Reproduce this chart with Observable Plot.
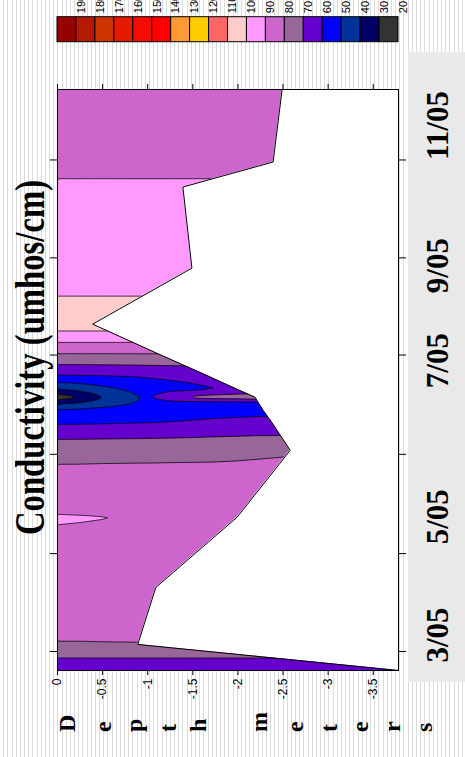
<!DOCTYPE html>
<html><head><meta charset="utf-8">
<script src="https://cdn.jsdelivr.net/npm/d3@7"></script>
<script src="https://cdn.jsdelivr.net/npm/@observablehq/plot@0.6"></script>
<style>
html,body{margin:0;padding:0;}
body{width:465px;height:757px;overflow:hidden;background:repeating-linear-gradient(to right,#ffffff 0px,#ffffff 3.17px,#dcdcdc 3.17px,#dcdcdc 4.17px);}
#wrap{position:relative;width:465px;height:757px;}
#datebox{position:absolute;left:407.5px;top:52px;width:57.5px;height:630px;background:#e9e9e9;}
#main{position:absolute;left:0;top:0;width:465px;height:757px;}
#legend{position:absolute;left:0;top:0;width:465px;height:50px;}
#main svg,#legend svg{max-width:none;}
</style></head><body>
<div id="wrap"><div id="datebox"></div><div id="main"></div><div id="legend"></div></div>
<script>
// ---- data ----
const depthCols = [0, -0.25, -0.5, -0.9, -1.05, -1.3, -1.7, -2.2, -2.7, -3.2, -3.5];
// profile times (months of 2005, decimal)
const times = [2.724, 3.102, 3.929, 4.946, 5.918, 6.296, 6.499, 6.601, 6.688, 6.804, 7.007, 7.327, 7.748, 8.561, 9.737, 10.100, 11.152];
// deepest depth of each profile (m)
const bottoms = [-3.78, -0.89, -1.09, -1.99, -2.58, -2.39, -2.28, -2.23, -2.19, -1.99, -1.65, -1.10, -0.39, -1.49, -1.39, -2.39, -2.49];
// conductivity at the deepest depth of each profile
const bottomValues = [61, 79.8, 85, 87, 79.3, 63, 57.5, 56, 76, 62, 63, 80.5, 106, 94, 91, 88, 84];
// conductivity (umhos/cm) at depthCols, null below the bottom
const conductivity = [
  [61, 61, 61, 61, 61, 61, 61, 61, 61, 61, 61],
  [79.7, 79.7, 79.75, null, null, null, null, null, null, null, null],
  [85, 85, 85, 85, 85, null, null, null, null, null, null],
  [90.6, 90.4, 90.15, 89.3, 89, 88.5, 87.5, null, null, null, null],
  [77.2, 77.3, 77.5, 77.8, 77.9, 78.1, 78.4, 78.9, null, null, null],
  [60, 60, 60.2, 60.5, 60.6, 61, 62, 63, null, null, null],
  [51, 52, 53.5, 55, 55.5, 56, 57, 57.5, null, null, null],
  [38, 41, 45, 51, 53, 55, 55.5, 56, null, null, null],
  [24, 30, 40, 49.5, 60.5, 70, 74, null, null, null, null],
  [40, 43, 47, 53, 55, 57, 59.5, null, null, null, null],
  [60, 60.2, 60.5, 61, 61.5, 62, null, null, null, null, null],
  [80.5, 80.5, 80.5, 80.5, 80.5, null, null, null, null, null, null],
  [106, 106, null, null, null, null, null, null, null, null, null],
  [94, 94, 94, 94, 94, 94, null, null, null, null, null],
  [91, 91, 91, 91, 91, 91, null, null, null, null, null],
  [88, 88, 88, 88, 88, 88, 88, 88, null, null, null],
  [84, 84, 84, 84, 84, 84, 84, 84, null, null, null]
];
const thresholds = [20, 30, 40, 50, 60, 70, 80, 90, 100, 110, 120, 130, 140, 150, 160, 170, 180, 190];
const bandColors = ["#333333", "#000066", "#003399", "#0000ff", "#6600cc", "#996699", "#cc66cc", "#ff99ff", "#ffcccc", "#ff6666", "#ffcc00", "#ff9933", "#ff0000", "#f20d00", "#e61a00", "#cc3300", "#b31a00", "#990000"];
const legendValues = [190, 180, 170, 160, 150, 140, 130, 120, 110, 100, 90, 80, 70, 60, 50, 40, 30, 20];
const depthTicks = [0, -0.5, -1, -1.5, -2, -2.5, -3, -3.5];
const dateTicks = [3.0, 4.42, 5.86, 7.30, 8.71, 10.13];
const dateLabels = ["3/05", "5/05", "7/05", "9/05", "11/05"];
const dateLabelPos = [2.840, 4.554, 6.819, 8.198, 10.129];
const maxDepth = -3.78;
const titleText = "Conductivity (umhos/cm)";
const axisTitle = "Depth meters";

// ---- build tables ----
const points = [];
times.forEach((t, i) => {
  depthCols.forEach((d, j) => {
    const v = conductivity[i][j];
    if (v != null) points.push({t, depth: d, value: v});
  });
  points.push({t, depth: bottoms[i], value: bottomValues[i]});
});
const profiles = times.map((t, i) => ({t, bottom: bottoms[i]}));

// Gridding between profiles: linear along each profile (held constant past its ends),
// then linear in time between neighbouring profiles.
function profileInterpolator(index, width, height, X, Y, V) {
  const groups = new Map();
  for (const i of index) {
    const y = Y[i];
    if (!groups.has(y)) groups.set(y, []);
    groups.get(y).push([X[i], V[i]]);
  }
  const rows = Array.from(groups, ([y, pts]) => ({y, pts: pts.sort((a, b) => a[0] - b[0])}))
    .sort((a, b) => a.y - b.y);
  const evalRow = (pts, x) => {
    const n = pts.length;
    if (x <= pts[0][0]) return pts[0][1];
    if (x >= pts[n - 1][0]) return pts[n - 1][1];
    for (let k = 1; k < n; k++) {
      if (x <= pts[k][0]) {
        const [x0, v0] = pts[k - 1], [x1, v1] = pts[k];
        return x1 === x0 ? v1 : v0 + (v1 - v0) * (x - x0) / (x1 - x0);
      }
    }
    return pts[n - 1][1];
  };
  const W = new Float64Array(width * height);
  for (let r = 0; r < height; r++) {
    const y = r + 0.5;
    let k = 0;
    while (k < rows.length - 1 && rows[k + 1].y <= y) k++;
    const a = rows[k], b = rows[Math.min(k + 1, rows.length - 1)];
    let w = b.y === a.y ? 0 : (y - a.y) / (b.y - a.y);
    w = Math.max(0, Math.min(1, w));
    for (let c = 0; c < width; c++) {
      const x = c + 0.5;
      const va = evalRow(a.pts, x), vb = evalRow(b.pts, x);
      W[r * width + c] = va + w * (vb - va);
    }
  }
  return W;
}

const colorScale = {type: "threshold", domain: thresholds.slice(1), range: bandColors};
const serif = "'Liberation Serif', 'Times New Roman', serif";
const sans = "'Liberation Sans', Arial, sans-serif";

const chart = Plot.plot({
  width: 465, height: 757,
  marginLeft: 57, marginRight: 67, marginTop: 89, marginBottom: 87,
  style: {background: "transparent", fontFamily: sans, overflow: "visible"},
  x: {domain: [0, maxDepth]},
  y: {domain: [times[0], times[times.length - 1]]},
  color: colorScale,
  marks: [
    Plot.frame({fill: "white"}),
    Plot.contour(points, {x: "depth", y: "t", fill: "value", interpolate: profileInterpolator, thresholds, stroke: "black", strokeWidth: 0.75}),
    Plot.areaX(profiles, {y: "t", x1: "bottom", x2: maxDepth, fill: "white"}),
    Plot.line(profiles, {x: "bottom", y: "t", stroke: "black", strokeWidth: 1}),
    Plot.frame({stroke: "black"}),
    Plot.axisX({anchor: "bottom", ticks: depthTicks, tickSize: 5, tickPadding: 3, tickRotate: -90, tickFormat: d => String(d), fontSize: 12, label: null}),
    Plot.axisX({anchor: "top", ticks: depthTicks, tickSize: 6, tickFormat: () => "", label: null}),
    Plot.axisY({anchor: "left", ticks: dateTicks, tickSize: 7, tickFormat: () => "", label: null}),
    Plot.axisY({anchor: "right", ticks: dateTicks, tickSize: 7, tickFormat: () => "", label: null}),
    Plot.text(dateLabels, {text: d => d, y: (d, i) => dateLabelPos[i], frameAnchor: "right", dx: 39.5, rotate: -90, textAnchor: "start", fontFamily: serif, fontWeight: "bold", fontSize: 31}),
    Plot.text([titleText], {text: d => d, frameAnchor: "left", dx: -27.2, dy: -22.5, rotate: -90, textAnchor: "middle", fontFamily: serif, fontWeight: "bold", fontSize: 32.7})
  ]
});

// condensed (tall) title glyphs as in the original
d3.select(chart).selectAll("text").filter(function () { return this.textContent === titleText; })
  .attr("transform", function () { return this.getAttribute("transform") + " scale(1,1.31)"; });

// stacked axis title "Depth meters"
const letterX = axisTitle.split("").map((c, i) => 84 + 32.1 * i);
d3.select(chart).append("text")
  .attr("x", letterX.join(" "))
  .attr("y", 732)
  .attr("rotate", -90)
  .attr("font-family", serif)
  .attr("font-weight", "bold")
  .attr("font-size", 24)
  .attr("fill", "black")
  .text(axisTitle);

document.getElementById("main").appendChild(chart);

// colour key: each box spans [value, value + 10], labelled at its lower bound
const legend = Plot.plot({
  width: 465, height: 50,
  marginLeft: 57, marginRight: 67, marginTop: 16.7, marginBottom: 8.3,
  style: {background: "transparent", fontFamily: sans},
  x: {domain: [200, 20], axis: null},
  y: {axis: null},
  color: colorScale,
  marks: [
    Plot.rect(legendValues, {x1: d => d + 10, x2: d => d, fill: d => d, stroke: "black", strokeWidth: 1}),
    Plot.text(legendValues, {x: d => d, text: d => String(d), frameAnchor: "top", dx: 0.5, dy: -4, rotate: -90, textAnchor: "start", fontSize: 11})
  ]
});
document.getElementById("legend").appendChild(legend);
</script>
</body></html>
